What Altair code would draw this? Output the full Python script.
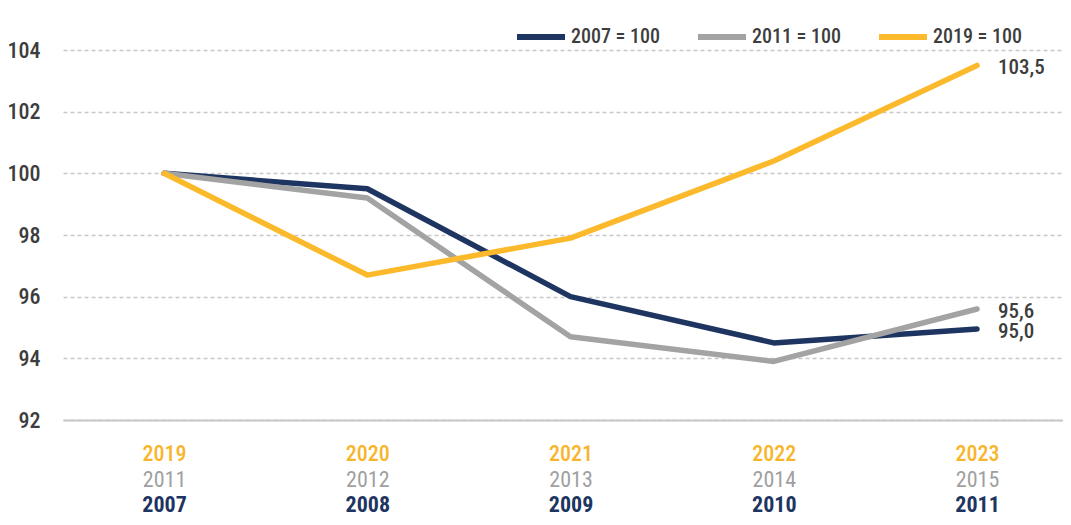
import json
import altair as alt
import pandas as pd

FONT = "Liberation Sans Narrow, Roboto Condensed, DejaVu Sans Condensed, sans-serif"
TEXT = "#3d3d3d"

series_names = ["2007 = 100", "2011 = 100", "2019 = 100"]
series_colors = ["#1d3560", "#a3a3a3", "#fbb92b"]
label_colors = ["#1d3560", "#a0a0a0", "#f9b52a"]

years_2007 = ["2007", "2008", "2009", "2010", "2011"]
years_2011 = ["2011", "2012", "2013", "2014", "2015"]
years_2019 = ["2019", "2020", "2021", "2022", "2023"]

values_2007 = [100.0, 99.5, 96.0, 94.5, 94.95]
values_2011 = [100.0, 99.2, 94.7, 93.9, 95.6]
values_2019 = [100.0, 96.7, 97.9, 100.4, 103.5]

end_labels = ["95,0", "95,6", "103,5"]
y_ticks = [92, 94, 96, 98, 100, 102, 104]
x_index = [0, 1, 2, 3, 4]

rows = []
for name, vals, lab in zip(series_names, [values_2007, values_2011, values_2019], end_labels):
    for i, v in zip(x_index, vals):
        rows.append({"idx": i, "value": v, "series": name,
                     "label": lab if i == x_index[-1] else ""})
df = pd.DataFrame(rows)

x_scale = alt.Scale(domain=[-0.497, 4.423], nice=False, zero=False)

y_enc = alt.Y(
    "value:Q",
    scale=alt.Scale(domain=[92, 104], nice=False, zero=False),
    axis=alt.Axis(values=y_ticks, title=None, grid=True, gridDash=[4, 3],
                  gridColor="#c8c8c8", gridWidth=1.5, domain=False, ticks=False,
                  labelPadding=23, labelFont=FONT, labelFontSize=22,
                  labelFontWeight=500, labelColor=TEXT),
)

color_enc = alt.Color(
    "series:N",
    scale=alt.Scale(domain=series_names, range=series_colors),
    legend=alt.Legend(title=None, orient="none", legendX=451, legendY=-40,
                      direction="horizontal", symbolType="stroke",
                      symbolSize=2304, symbolStrokeWidth=6,
                      labelFont=FONT, labelFontSize=20, labelFontWeight=500,
                      labelColor=TEXT, columnPadding=25, labelOffset=3),
)


def x_enc(labels, color, pad, weight, domain):
    return alt.X(
        "idx:Q",
        scale=x_scale,
        axis=alt.Axis(values=x_index, labelExpr=f"{json.dumps(labels)}[datum.value]",
                      title=None, grid=False, ticks=False, tickSize=0,
                      domain=domain, domainColor="#c8c8c8", domainWidth=2,
                      labelPadding=pad, labelBaseline="middle", labelColor=color,
                      labelFont=FONT, labelFontSize=22, labelFontWeight=weight,
                      orient="bottom", labelFlush=False, labelOverlap=False),
    )


base = alt.Chart(df)

navy = base.transform_filter(alt.datum.series == series_names[0]).mark_line(
    strokeWidth=5.5, strokeCap="round", strokeJoin="round"
).encode(x=x_enc(years_2007, label_colors[0], 84, "bold", False), y=y_enc, color=color_enc)

gray = base.transform_filter(alt.datum.series == series_names[1]).mark_line(
    strokeWidth=5.5, strokeCap="round", strokeJoin="round"
).encode(x=x_enc(years_2011, label_colors[1], 59, "normal", False), y=y_enc, color=color_enc)

yellow = base.transform_filter(alt.datum.series == series_names[2]).mark_line(
    strokeWidth=5.5, strokeCap="round", strokeJoin="round"
).encode(x=x_enc(years_2019, label_colors[2], 33, 500, True), y=y_enc, color=color_enc)

labels = base.transform_filter(alt.datum.label != "").mark_text(
    align="left", baseline="middle", dx=21, dy=3, font=FONT, fontSize=21,
    fontWeight=500, color=TEXT
).encode(
    x=alt.X("idx:Q", scale=x_scale,
            axis=alt.Axis(labels=False, domain=False, ticks=False, grid=False,
                          title=None, orient="bottom")),
    y=y_enc, text="label:N",
)

chart = alt.layer(navy, gray, yellow, labels).resolve_scale(
    x="independent"
).resolve_axis(x="independent").properties(
    width=1000, height=370,
    background="white",
    autosize=alt.AutoSizeParams(type="none"),
    padding={"left": 55, "top": 42, "right": 0, "bottom": 97},
).configure_view(stroke="transparent", strokeWidth=0).configure_axisY(
    domain=False
).configure_axisX(grid=False)

chart.save("out.html", embed_options={"renderer": "svg", "actions": False})
